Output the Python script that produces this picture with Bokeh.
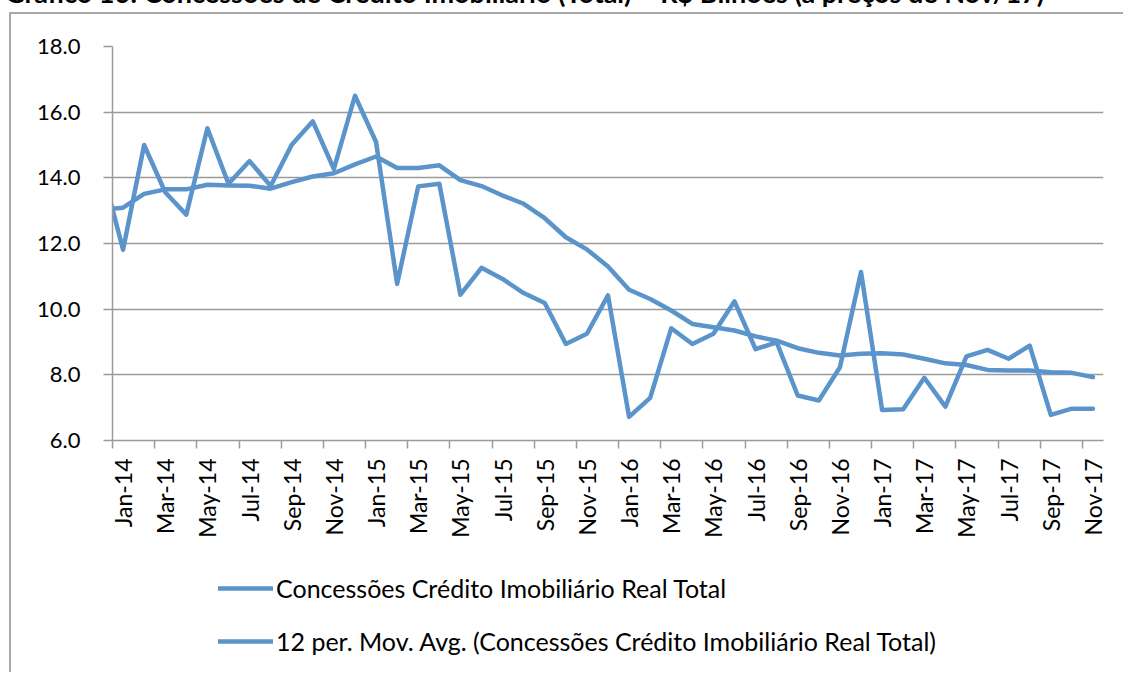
from bokeh.plotting import figure
from bokeh.models import Range1d, FixedTicker, NumeralTickFormatter, Legend, LegendItem, Div
from bokeh.layouts import column
from bokeh.embed import file_html
from bokeh.resources import INLINE

# ---- data ----
MONTH_ABBR = ["Jan", "Feb", "Mar", "Apr", "May", "Jun",
              "Jul", "Aug", "Sep", "Oct", "Nov", "Dec"]
YEARS = ["14", "15", "16", "17"]
months = [f"{m}-{y}" for y in YEARS for m in MONTH_ABBR][:47]   # Jan-14 .. Nov-17

# value of the month before the first category (Dec-13); only its segment to Jan-14 is visible
prev_real = 14.28
prev_ma = 13.03

real_total = [11.81, 15.00, 13.56, 12.88, 15.51, 13.82, 14.51, 13.75, 15.01, 15.72, 14.27, 16.50,
              15.09, 10.77, 13.74, 13.82, 10.44, 11.26, 10.92, 10.49, 10.19, 8.94, 9.25, 10.42,
              6.72, 7.30, 9.42, 8.94, 9.25, 10.24, 8.78, 8.99, 7.37, 7.22, 8.23, 11.13,
              6.93, 6.95, 7.91, 7.03, 8.56, 8.76, 8.49, 8.89, 6.78, 6.97, 6.97]

mov_avg_12 = [13.09, 13.51, 13.65, 13.65, 13.79, 13.77, 13.76, 13.67, 13.87, 14.04, 14.14, 14.41,
              14.65, 14.30, 14.30, 14.38, 13.93, 13.75, 13.46, 13.21, 12.77, 12.19, 11.82, 11.30,
              10.59, 10.31, 9.96, 9.55, 9.45, 9.35, 9.17, 9.04, 8.81, 8.67, 8.59, 8.64,
              8.66, 8.62, 8.49, 8.35, 8.30, 8.15, 8.13, 8.13, 8.08, 8.06, 7.93]

y_ticks = [6, 8, 10, 12, 14, 16, 18]

series_names = ["Concessões Crédito Imobiliário Real Total",
                "12 per. Mov. Avg. (Concessões Crédito Imobiliário Real Total)"]

title_text = "Gráfico 10: Concessões de Crédito Imobiliário (Total) – R$ Bilhões (a preços de Nov/17)"

# ---- layout / style ----
BLUE = "#5B93CB"
GRID = "#9a9a9a"
BORDER = "2px solid #a8a8a8"
FONT = "Lato"
LINE_KW = dict(line_color=BLUE, line_width=4.5, line_join="round", line_cap="round")

n = len(months)
xs = [-0.5] + [i + 0.5 for i in range(n)]          # category centres (Dec-13 lies outside the range)
ys_real = [prev_real] + real_total
ys_ma = [prev_ma] + mov_avg_12

# title strip: only the lower part of the title is visible, as in the reference
title_div = Div(
    text=(f'<div style="position:relative; top:-21px; left:5px; white-space:nowrap; '
          f'font-family:{FONT}; font-weight:bold; font-size:27px; line-height:27px; color:black;">'
          f'{title_text}</div>'),
    width=1120, height=12, styles={"overflow": "hidden"})
title_div.margin = 0

# ---- main chart ----
p = figure(width=1114, height=540,
           x_range=Range1d(0, n), y_range=Range1d(y_ticks[0], y_ticks[-1]),
           output_backend="svg", toolbar_location=None,
           min_border_left=101, min_border_right=22,
           min_border_top=32, min_border_bottom=114)
p.margin = (0, 0, 0, 9)
p.styles = {"border-left": BORDER, "border-top": BORDER}
p.outline_line_color = None
p.background_fill_color = "white"
p.border_fill_color = "white"

p.line(xs, ys_real, **LINE_KW)
p.line(xs, ys_ma, **LINE_KW)

# x axis: labels at category centres every 2 months, tick marks at category boundaries
label_pos = [i + 0.5 for i in range(0, n, 2)]
bound_pos = [float(i) for i in range(0, n, 2)]
xa = p.xaxis[0]
xa.ticker = FixedTicker(ticks=label_pos, minor_ticks=bound_pos)
xa.major_label_overrides = {i + 0.5: months[i] for i in range(0, n, 2)}
xa.major_label_orientation = 3.141592653589793 / 2
xa.major_tick_out = 0
xa.major_tick_in = 0
xa.minor_tick_out = 8
xa.minor_tick_in = 0
xa.minor_tick_line_color = GRID
xa.minor_tick_line_width = 1.5
xa.axis_line_color = GRID
xa.axis_line_width = 1.5
xa.major_label_standoff = 10
xa.major_label_text_font = FONT
xa.major_label_text_font_size = "23px"
xa.major_label_text_color = "black"

ya = p.yaxis[0]
ya.ticker = FixedTicker(ticks=y_ticks)
ya.formatter = NumeralTickFormatter(format="0.0")
ya.major_tick_out = 9
ya.major_tick_in = 0
ya.minor_tick_out = 0
ya.minor_tick_in = 0
ya.major_tick_line_color = GRID
ya.major_tick_line_width = 1.5
ya.axis_line_color = GRID
ya.axis_line_width = 1.5
ya.major_label_standoff = 23
ya.major_label_text_font = FONT
ya.major_label_text_font_size = "22px"
ya.major_label_text_color = "black"

p.xgrid.visible = False
p.ygrid.ticker = FixedTicker(ticks=y_ticks)
p.ygrid.grid_line_color = GRID
p.ygrid.grid_line_width = 1.5

# ---- legend strip (continues the chart area below the axis) ----
# same series, drawn on a y-range where they stay out of view; they only feed the legend swatches
p2 = figure(width=1114, height=120, x_axis_type=None, y_axis_type=None,
            x_range=Range1d(0, n), y_range=Range1d(-2, -1),
            output_backend="svg", toolbar_location=None,
            min_border_left=0, min_border_right=0, min_border_top=0, min_border_bottom=0)
p2.margin = (0, 0, 0, 9)
p2.styles = {"border-left": BORDER}
p2.outline_line_color = None
p2.grid.visible = False
p2.background_fill_color = "white"
p2.border_fill_color = "white"

k1 = p2.line(xs, ys_real, **LINE_KW)
k2 = p2.line(xs, ys_ma, **LINE_KW)

legend = Legend(items=[LegendItem(label=series_names[0], renderers=[k1]),
                       LegendItem(label=series_names[1], renderers=[k2])],
                location=(106, 16), orientation="vertical",
                border_line_color=None, background_fill_alpha=0,
                padding=0, margin=0, spacing=23,
                glyph_width=55, glyph_height=30, label_height=30, label_standoff=3,
                label_text_font=FONT, label_text_font_size="25px", label_text_color="black")
p2.add_layout(legend)

layout = column(title_div, p, p2, spacing=0)
open("out.html", "w").write(file_html(layout, INLINE))
